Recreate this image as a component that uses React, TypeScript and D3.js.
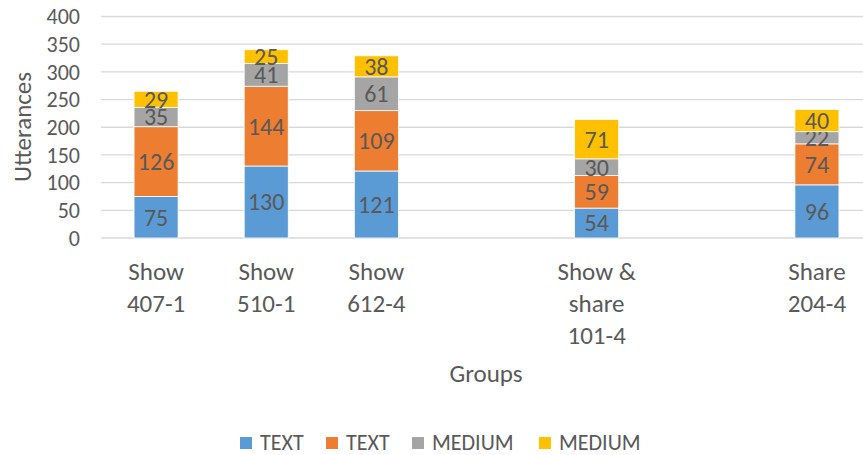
import React from "react";
import * as d3 from "d3";

const categories: string[][] = [
  ["Show", "407-1"],
  ["Show", "510-1"],
  ["Show", "612-4"],
  [],
  ["Show &", "share", "101-4"],
  [],
  ["Share", "204-4"],
];
const seriesNames = ["TEXT", "TEXT", "MEDIUM", "MEDIUM"];
const seriesColors = ["#5B9BD5", "#ED7D31", "#A5A5A5", "#FFC000"];
const text1: (number | null)[] = [75, 130, 121, null, 54, null, 96];
const text2: (number | null)[] = [126, 144, 109, null, 59, null, 74];
const medium1: (number | null)[] = [35, 41, 61, null, 30, null, 22];
const medium2: (number | null)[] = [29, 25, 38, null, 71, null, 40];
const yTicks = [0, 50, 100, 150, 200, 250, 300, 350, 400];

const W = 863;
const H = 455;
const FONT = "Carlito, Calibri, 'Open Sans', sans-serif";
const TXT = "#595959";

export default function App() {
  const series = [text1, text2, medium1, medium2];
  const x = d3
    .scaleBand<number>()
    .domain(categories.map((_, i) => i))
    .range([101, 872])
    .paddingInner(0.6)
    .paddingOuter(0.3);
  const y = d3.scaleLinear().domain([0, 400]).range([238, 16.5]);

  const rows = categories.map((_, i) => {
    const o: any = { i };
    series.forEach((s, k) => (o["s" + k] = s[i] ?? 0));
    o.empty = series.every((s) => s[i] == null);
    return o;
  });
  const stack = d3.stack<any>().keys(series.map((_, k) => "s" + k));
  const stacked = stack(rows);

  const legendX = [240, 326, 412, 539];

  return (
    <svg
      width={W}
      height={H}
      style={{ position: "absolute", left: 0, top: 0, background: "#fff" }}
      fontFamily={FONT}
    >
      {yTicks.map((t) => (
        <g key={t}>
          <line x1={101} x2={W} y1={y(t)} y2={y(t)} stroke="#D9D9D9" strokeWidth={1.3} />
          <text x={80} y={y(t)} dy="0.35em" textAnchor="end" fontSize={22} fill={TXT}>
            {t}
          </text>
        </g>
      ))}
      {stacked.map((layer, k) => (
        <g key={k}>
          {layer.map((d, i) => {
            if (rows[i].empty) return null;
            const v = series[k][i] as number;
            const x0 = x(i)!;
            const bw = x.bandwidth();
            const y0 = y(d[1]);
            const h = y(d[0]) - y(d[1]);
            return (
              <g key={i}>
                <rect x={x0} y={y0} width={bw} height={h} fill={seriesColors[k]} stroke="#fff" strokeWidth={0.8} />
                <text
                  x={x0 + bw / 2}
                  y={y0 + h / 2}
                  dy="0.35em"
                  textAnchor="middle"
                  fontSize={24}
                  fill={TXT}
                >
                  {v}
                </text>
              </g>
            );
          })}
        </g>
      ))}
      {categories.map((lines, i) => (
        <text key={i} textAnchor="middle" fontSize={25} fill={TXT}>
          {lines.map((l, j) => (
            <tspan key={j} x={x(i)! + x.bandwidth() / 2} y={280 + j * 32}>
              {l}
            </tspan>
          ))}
        </text>
      ))}
      <text
        transform="translate(31,127) rotate(-90)"
        textAnchor="middle"
        fontSize={25}
        fill={TXT}
      >
        Utterances
      </text>
      <text x={486} y={382} textAnchor="middle" fontSize={25} fill={TXT}>
        Groups
      </text>
      {seriesNames.map((n, k) => (
        <g key={k}>
          <rect x={legendX[k]} y={437} width={12} height={12} fill={seriesColors[k]} />
          <text x={legendX[k] + 20} y={450} fontSize={22} fill={TXT}>
            {n}
          </text>
        </g>
      ))}
    </svg>
  );
}
